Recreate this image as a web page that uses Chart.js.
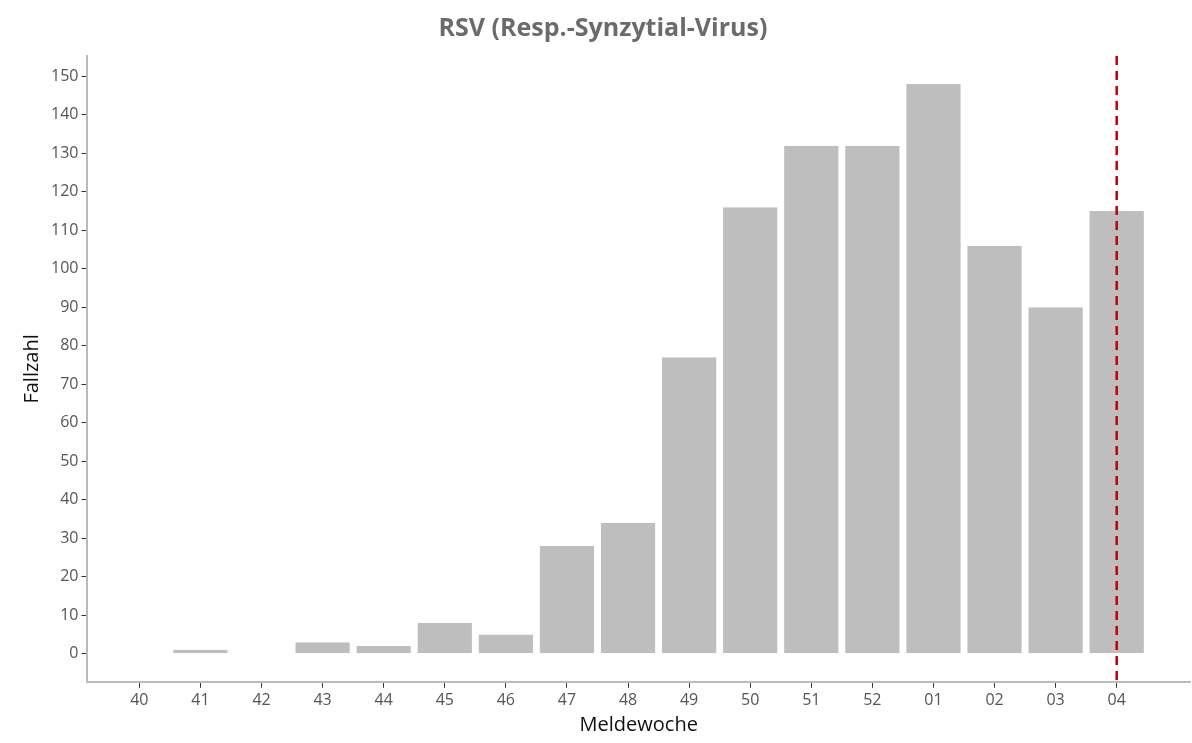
<!DOCTYPE html>
<html><head><meta charset="utf-8">
<script src="https://cdn.jsdelivr.net/npm/chart.js@4"></script>
<style>body{margin:0;background:#fff}#wrap{width:1192px;height:743px}</style>
</head><body><div id="wrap"><canvas id="c"></canvas></div>
<script>
var weeks = ['40','41','42','43','44','45','46','47','48','49','50','51','52','01','02','03','04'];
var cases = [0, 1, 0, 3, 2, 8, 5, 28, 34, 77, 116, 132, 132, 148, 106, 90, 115];
var currentWeek = '04';

var markerPlugin = {
    id: 'marker',
    afterDatasetsDraw: function (chart) {
        var x = chart.scales.x.getPixelForValue(weeks.indexOf(currentWeek));
        var a = chart.chartArea, ctx = chart.ctx;
        ctx.save();
        ctx.strokeStyle = '#c00000';
        ctx.lineWidth = 2.5;
        ctx.setLineDash([9, 6]);
        ctx.beginPath();
        ctx.moveTo(x, a.top);
        ctx.lineTo(x, a.bottom);
        ctx.stroke();
        ctx.restore();
    }
};

new Chart(document.getElementById('c'), {
    type: 'bar',
    data: {
        datasets: [{
            data: cases.map(function (v, i) { return {x: i, y: v}; }),
            backgroundColor: '#bebebe',
            borderColor: '#ffffff',
            borderWidth: {left: 1, right: 1, top: 0, bottom: 0},
            borderRadius: 1,
            barPercentage: 0.92,
            categoryPercentage: 1
        }]
    },
    options: {
        responsive: true,
        maintainAspectRatio: false,
        animation: false,
        layout: {padding: {top: 4, right: 2, left: 16, bottom: 2}},
        plugins: {
            legend: {display: false},
            tooltip: {enabled: false},
            title: {display: true, text: 'RSV (Resp.-Synzytial-Virus)', color: '#6b6b6b',
                font: {family: 'Open Sans', size: 25, weight: 'bold'}, padding: {top: 10, bottom: 12}}
        },
        scales: {
            x: {
                type: 'linear', min: -0.85, max: 17.2, offset: false,
                grid: {display: true, offset: false, drawOnChartArea: false, tickLength: 6, tickColor: '#333'},
                border: {color: '#bbb', width: 2},
                afterBuildTicks: function (s) { s.ticks = weeks.map(function (w, i) { return {value: i}; }); },
                ticks: {color: '#555', font: {family: 'Open Sans', size: 16},
                    callback: function (v) { return weeks[v]; }},
                title: {display: true, text: 'Meldewoche', color: '#111', font: {family: 'Open Sans', size: 20}, padding: {top: 0}}
            },
            y: {
                min: -7.3, max: 155.3,
                grid: {display: true, drawOnChartArea: false, tickLength: 6, tickColor: '#333'},
                border: {color: '#bbb', width: 2},
                afterBuildTicks: function (s) {
                    var t = []; for (var v = 0; v <= 150; v += 10) t.push({value: v}); s.ticks = t;
                },
                ticks: {color: '#555', font: {family: 'Open Sans', size: 16}},
                title: {display: true, text: 'Fallzahl', color: '#111', font: {family: 'Open Sans', size: 20}}
            }
        }
    },
    plugins: [markerPlugin]
});
</script></body></html>
